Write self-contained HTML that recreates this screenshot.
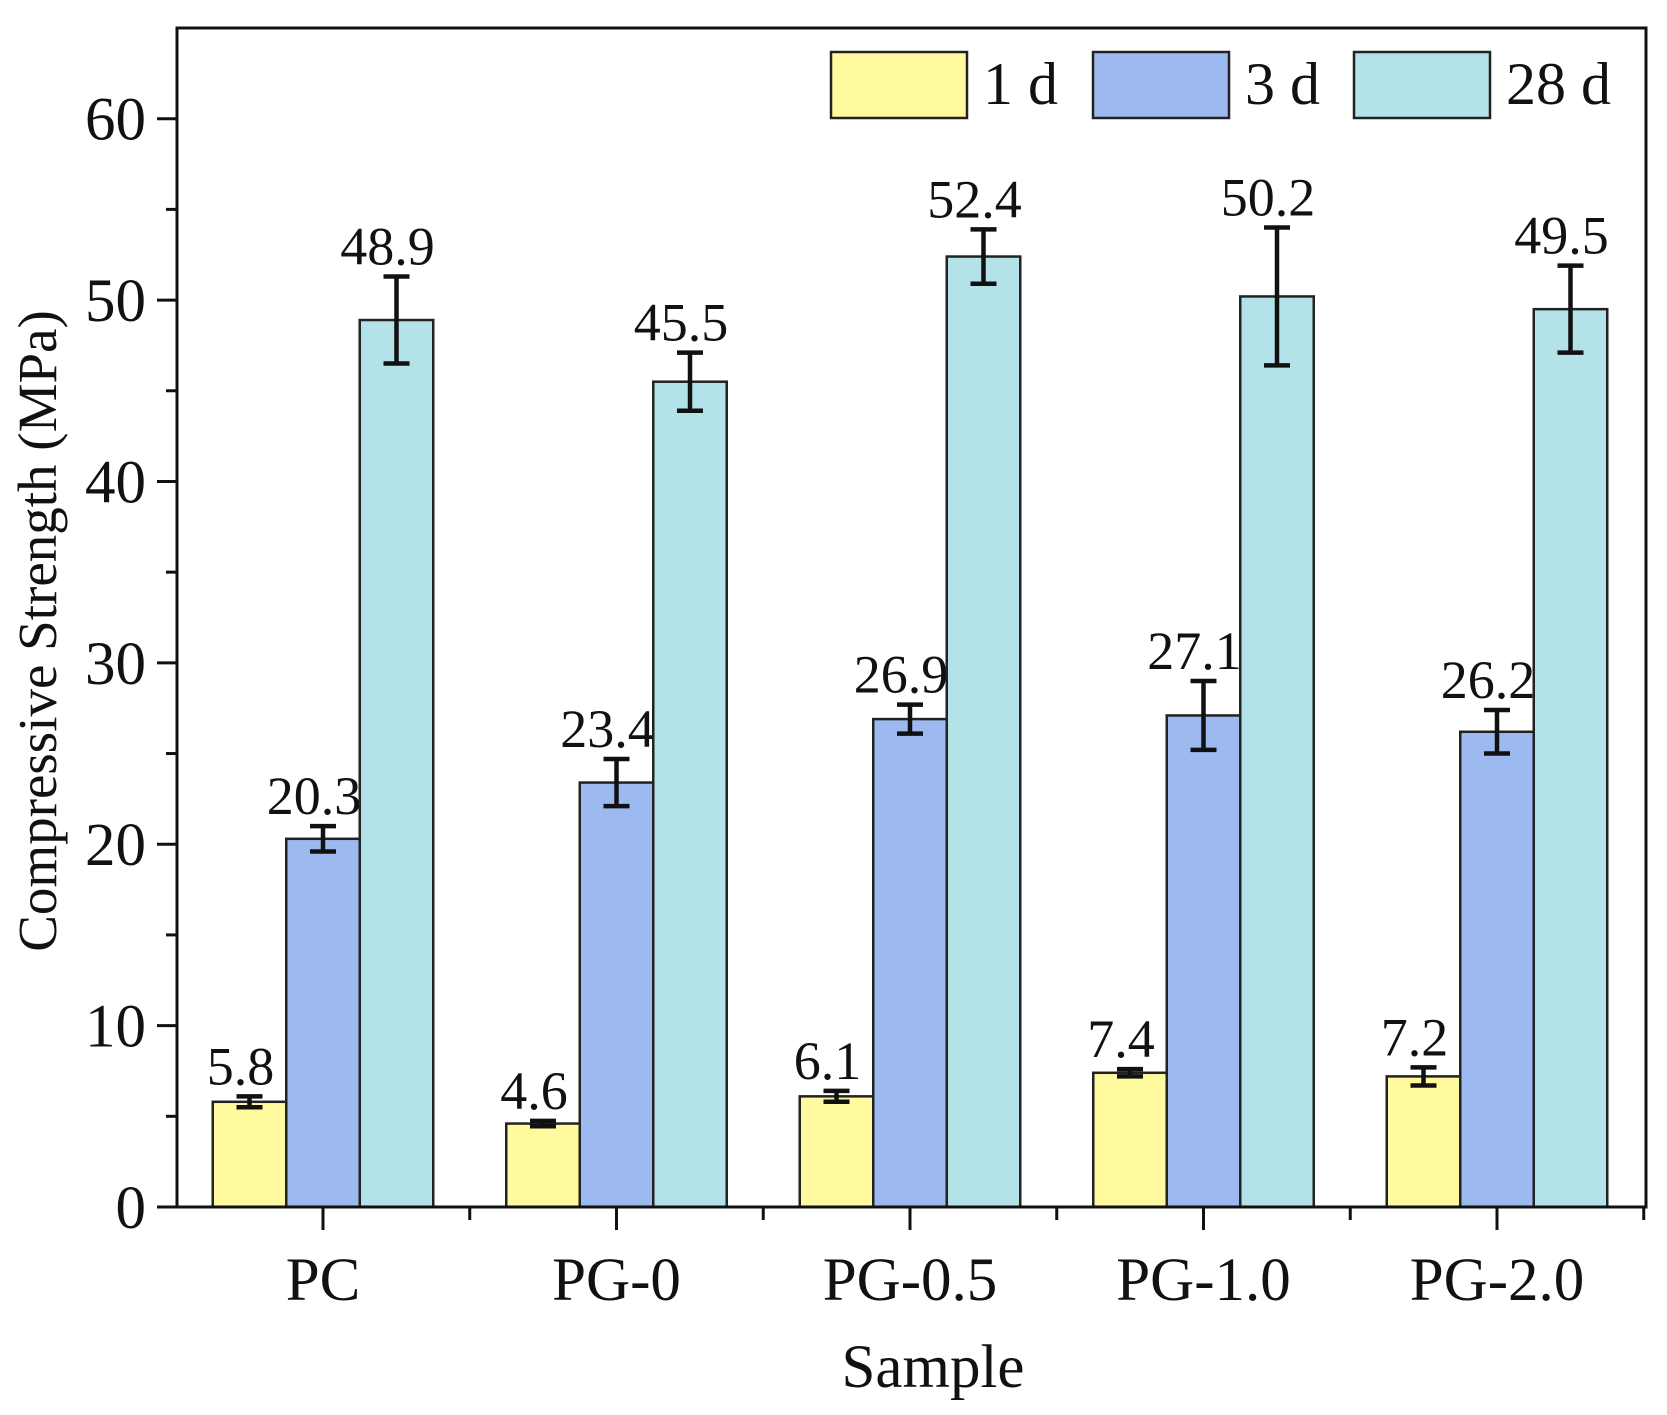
<!DOCTYPE html>
<html><head><meta charset="utf-8"><style>
body{margin:0;background:#fff}
svg text{font-family:"Liberation Serif",serif;fill:#111}
</style></head><body>
<svg id="c" width="1667" height="1410" viewBox="0 0 1667 1410"></svg>
<script>
const categories=["PC","PG-0","PG-0.5","PG-1.0","PG-2.0"];
const seriesNames=["1 d","3 d","28 d"];
const values1d=[5.8,4.6,6.1,7.4,7.2];
const values3d=[20.3,23.4,26.9,27.1,26.2];
const values28d=[48.9,45.5,52.4,50.2,49.5];
const err1d=[0.3,0.15,0.3,0.2,0.5];
const err3d=[0.7,1.3,0.8,1.9,1.2];
const err28d=[2.4,1.6,1.5,3.8,2.4];
const yTicks=[0,10,20,30,40,50,60];
const colors=["#fffa9e","#9cb9f0","#b3e3e8"];
const NS="http://www.w3.org/2000/svg";
const svg=document.getElementById('c');
const L=177,R=1646,T=28,B=1207;
const yMax=65;
const y=v=>B-(v/yMax)*(B-T);
const step=293.5, x0=323;
const xc=i=>x0+i*step;
const bw=73.5;
function el(t,a,p){const e=document.createElementNS(NS,t);for(const k in a)e.setAttribute(k,a[k]);(p||svg).appendChild(e);return e;}
const series=[values1d,values3d,values28d];
const errs=[err1d,err3d,err28d];
series.forEach((vals,s)=>{
 vals.forEach((v,i)=>{
  const cx=xc(i)+(s-1)*bw;
  const r=el('rect',{x:cx-bw/2,y:y(v),width:bw,height:B-y(v),fill:colors[s],stroke:'#222','stroke-width':2.5});
  
  
  const e=errs[s][i];
  const g=el('g',{stroke:'#111','stroke-width':4.5});
  
  
  el('line',{x1:cx,x2:cx,y1:y(v+e),y2:y(v-e)},g);
  el('line',{x1:cx-13,x2:cx+13,y1:y(v+e),y2:y(v+e)},g);
  el('line',{x1:cx-13,x2:cx+13,y1:y(v-e),y2:y(v-e)},g);
  const t=el('text',{x:cx-9,y:y(v+e)-12,'font-size':54,'text-anchor':'middle'});
  t.textContent=v.toFixed(1);
  
  
 });
});
const f=el('rect',{x:L,y:T,width:R-L,height:B-T,fill:'none',stroke:'#111','stroke-width':3});


for(let v=0;v<=60;v+=5){
 const major=v%10===0;
 el('line',{x1:L-(major?20:11),x2:L,y1:y(v),y2:y(v),stroke:'#111','stroke-width':3});
}
yTicks.forEach(v=>{
 const t=el('text',{x:146,y:y(v)+21,'font-size':61,'text-anchor':'end'});
 t.textContent=v;
 
 
});
categories.forEach((c,i)=>{
 el('line',{x1:xc(i),x2:xc(i),y1:B,y2:B+23,stroke:'#111','stroke-width':3});
 el('line',{x1:xc(i)+step/2,x2:xc(i)+step/2,y1:B,y2:B+13,stroke:'#111','stroke-width':3});
 const t=el('text',{x:xc(i),y:1300,'font-size':61,'text-anchor':'middle'});
 t.textContent=c;
 
 
});
const xt=el('text',{x:933,y:1387,'font-size':61,'text-anchor':'middle'});
xt.textContent='Sample';


const yt=el('text',{x:0,y:0,'font-size':55,'text-anchor':'middle',transform:'translate(56,631) rotate(-90)'});
yt.textContent='Compressive Strength (MPa)';


const lx=[831,1093,1354];
seriesNames.forEach((n,s)=>{
 const g=el('g',{});
 
 
 el('rect',{x:lx[s],y:52,width:136,height:66,fill:colors[s],stroke:'#222','stroke-width':2.5},g);
 const t=el('text',{x:lx[s]+152,y:104,'font-size':60},g);
 t.textContent=n;
});
</script>
</body></html>
